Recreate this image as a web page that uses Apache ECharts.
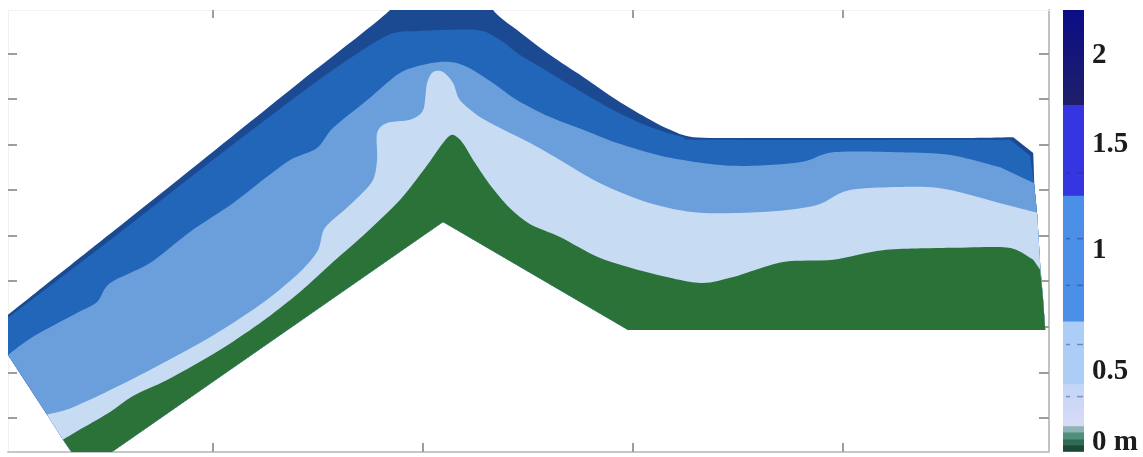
<!DOCTYPE html>
<html>
<head>
<meta charset="utf-8">
<script src="https://cdn.jsdelivr.net/npm/echarts@6/dist/echarts.min.js"></script>
<style>
html, body { margin: 0; padding: 0; background: #fff; }
#chart { width: 1143px; height: 457px; }
</style>
</head>
<body>
<div id="chart"></div>
<script>
// Cross-section of the embankment: [distance, elevation] pairs.
// Outer top surface (continues above the frame at the crest).
const surfaceLine = [[0.24,3.26],[5.10,5.04],[9.38,6.61],[14.14,8.37],[18.43,9.95],[19.86,10.82],[22.24,10.82],[23.33,9.95],[24.48,9.51],[26.05,8.96],[27.62,8.48],[29.24,7.97],[30.81,7.54],[31.76,7.32],[32.86,7.16],[35.57,7.14],[40.33,7.14],[45.10,7.14],[48.10,7.16],[49.05,6.81]];
// Lower limit of the darkest band
const navyBase = [[0.24,3.19],[5.10,4.90],[9.38,6.44],[14.14,8.11],[16.52,8.89],[18.43,9.42],[19.86,9.49],[22.57,9.51],[23.67,9.29],[24.62,8.96],[26.05,8.57],[27.62,8.13],[29.24,7.71],[30.81,7.38],[32.38,7.16],[33.67,7.10],[47.95,7.10],[48.90,6.75]];
// Lower limit of the medium blue band
const mediumBase = [[0.24,2.38],[1.43,2.78],[3.52,3.30],[4.48,3.54],[5.10,3.96],[7.00,4.40],[8.90,5.08],[10.95,5.71],[12.57,6.29],[13.67,6.66],[14.95,6.92],[15.71,7.36],[17.33,7.97],[18.90,8.57],[20.33,8.78],[21.29,8.81],[22.10,8.70],[23.33,8.35],[24.48,7.97],[26.05,7.60],[27.62,7.32],[29.24,7.03],[31.62,6.72],[34.76,6.53],[37.95,6.61],[39.52,6.83],[42.71,6.83],[45.10,6.77],[47.48,6.50],[49.10,6.15]];
// Lower limit of the light blue band
const lightBase = [[2.10,1.07],[3.05,1.18],[4.62,1.50],[7.00,2.05],[9.38,2.64],[10.95,3.08],[12.57,3.59],[14.14,4.20],[15.00,4.68],[15.33,5.17],[16.52,5.67],[17.57,6.18],[17.81,6.66],[17.81,7.25],[18.29,7.47],[19.38,7.54],[20.00,7.75],[20.19,8.35],[20.48,8.59],[20.95,8.59],[21.43,8.35],[21.76,7.97],[22.71,7.60],[23.67,7.36],[25.10,7.03],[26.52,6.66],[28.43,6.15],[30.81,5.71],[33.19,5.50],[36.38,5.52],[38.76,5.67],[40.33,6.00],[43.52,6.07],[45.10,6.00],[47.48,5.71],[49.24,5.50]];
// Top of the dry (green) zone
const greenTop = [[2.86,0.52],[3.81,0.78],[5.10,1.13],[6.19,1.48],[7.81,1.83],[9.71,2.32],[10.95,2.67],[12.57,3.19],[14.14,3.76],[15.71,4.42],[17.33,5.08],[18.90,5.78],[20.10,6.48],[20.95,7.03],[21.38,7.21],[21.86,7.05],[22.48,6.59],[23.19,6.11],[24.14,5.60],[25.10,5.25],[26.52,4.97],[28.43,4.51],[30.81,4.18],[33.19,3.96],[34.76,4.09],[37.14,4.42],[39.52,4.47],[41.90,4.68],[45.10,4.73],[47.48,4.75],[48.29,4.68],[49.05,4.47],[49.38,4.25]];
// Outline: right side (top to bottom), base (right to left), left side (bottom to top)
const rightEdge = [[49.10,6.11],[49.24,5.45],[49.38,4.36],[49.52,3.59],[49.62,2.93]];
const bottomEdge = [[29.76,2.93],[20.95,5.30],[5.19,0.25],[3.86,-0.16]];
const leftEdge = [[2.86,0.52],[2.10,1.07],[0.24,2.38]];

const layerTops = [surfaceLine, navyBase, mediumBase, lightBase, greenTop];
const layerColors = ['#1b4a93', '#2266b9', '#6b9fdc', '#c7dcf3', '#2b7239'];

const xTicks = [10, 20, 30, 40];
const yTicks = [1, 2, 3, 4, 5, 6, 7, 8, 9];

// Colour bar: segment edges along the bar (0 = bottom, 1 = top), colours, level marks, labels
const cbEdges = [1, 0.785, 0.579, 0.294, 0.152, 0.057, 0.043, 0.027, 0.014, 0];
const cbColors = [['#0b0d86', '#1f1f6a'], '#3535e2', '#4c8fe9', '#abcdf6', ['#c2d5f6', '#d9dbf6'], '#8db3b6', '#4f907c', '#2e6c55', '#1c4b35'];
const cbMarks = [0.631, 0.482, 0.376, 0.242, 0.124];
const cbLabelPos = [0.896, 0.695, 0.455, 0.181, 0.020];
const cbLabels = ['2', '1.5', '1', '0.5', '0 m'];

// Outline points that close a band below its upper limit.
function closingPoints(top) {
  const first = top[0][1];
  const last = top[top.length - 1][1];
  return rightEdge.filter(p => p[1] < last)
    .concat(bottomEdge)
    .concat(leftEdge.filter(p => p[1] < first));
}

// Path: smooth curve through the band's upper limit (its last point kept as a sharp
// corner at the right edge), then straight lines along the outline.
function bandPath(topPx, closePx) {
  const f = v => v.toFixed(2);
  const t = 0.85;
  const n = topPx.length;
  let d = 'M' + f(topPx[0][0]) + ' ' + f(topPx[0][1]);
  for (let i = 0; i < n - 2; i++) {
    const p0 = topPx[i - 1] || topPx[i];
    const p1 = topPx[i];
    const p2 = topPx[i + 1];
    const p3 = (i + 2 < n - 1) ? topPx[i + 2] : p2;
    const c1x = p1[0] + (p2[0] - p0[0]) * t / 6, c1y = p1[1] + (p2[1] - p0[1]) * t / 6;
    const c2x = p2[0] - (p3[0] - p1[0]) * t / 6, c2y = p2[1] - (p3[1] - p1[1]) * t / 6;
    d += 'C' + f(c1x) + ' ' + f(c1y) + ' ' + f(c2x) + ' ' + f(c2y) + ' ' + f(p2[0]) + ' ' + f(p2[1]);
  }
  d += 'L' + f(topPx[n - 1][0]) + ' ' + f(topPx[n - 1][1]);
  closePx.forEach(p => { d += 'L' + f(p[0]) + ' ' + f(p[1]); });
  return d + 'Z';
}

function toFill(c) {
  if (Array.isArray(c)) {
    return new echarts.graphic.LinearGradient(0, 0, 0, 1, [
      { offset: 0, color: c[0] }, { offset: 1, color: c[1] }
    ]);
  }
  return c;
}

const tickStyle = { color: '#9d9d9d', width: 2 };

const chart = echarts.init(document.getElementById('chart'), null, { renderer: 'canvas' });

chart.setOption({
  animation: false,
  backgroundColor: '#ffffff',
  grid: [
    { left: 8, top: 10, width: 1041, height: 442 },
    { left: 1063, top: 10, width: 21, height: 442 }
  ],
  xAxis: [
    {
      gridIndex: 0, type: 'value', position: 'bottom', min: 0.24, max: 49.8,
      axisLine: { show: true, lineStyle: { color: '#c6c6c6', width: 2 } },
      axisTick: { show: true, inside: true, length: 9, customValues: xTicks, lineStyle: tickStyle },
      axisLabel: { show: false }, splitLine: { show: false }
    },
    {
      gridIndex: 0, type: 'value', position: 'top', min: 0.24, max: 49.8,
      axisLine: { show: true, lineStyle: { color: '#f3f3f3', width: 1 } },
      axisTick: { show: true, inside: true, length: 8, customValues: xTicks, lineStyle: tickStyle },
      axisLabel: { show: false }, splitLine: { show: false }
    },
    { gridIndex: 1, type: 'value', min: 0, max: 1, show: false }
  ],
  yAxis: [
    {
      gridIndex: 0, type: 'value', position: 'left', min: 0.25, max: 9.95,
      axisLine: { show: true, lineStyle: { color: '#f0f0f0', width: 1 } },
      axisTick: { show: true, inside: true, length: 9, customValues: yTicks, lineStyle: tickStyle },
      axisLabel: { show: false }, splitLine: { show: false }
    },
    {
      gridIndex: 0, type: 'value', position: 'right', min: 0.25, max: 9.95,
      axisLine: { show: true, lineStyle: { color: '#c2c2c2', width: 2 } },
      axisTick: { show: true, inside: true, length: 10, customValues: yTicks, lineStyle: tickStyle },
      axisLabel: { show: false }, splitLine: { show: false }
    },
    {
      gridIndex: 1, type: 'value', position: 'right', min: 0, max: 1,
      axisLine: { show: false }, axisTick: { show: false }, splitLine: { show: false },
      axisLabel: {
        show: true, customValues: cbLabelPos, margin: 8,
        color: '#1c1c1c', fontFamily: 'Liberation Serif', fontWeight: 'bold', fontSize: 29,
        formatter: function (v) {
          let best = 0;
          cbLabelPos.forEach((p, i) => { if (Math.abs(p - v) < Math.abs(cbLabelPos[best] - v)) best = i; });
          return cbLabels[best];
        }
      }
    }
  ],
  series: [
    {
      type: 'custom', xAxisIndex: 0, yAxisIndex: 0, clip: true, silent: true,
      data: layerTops.map((t, i) => [i]),
      renderItem: function (params, api) {
        const i = api.value(0);
        const top = layerTops[i];
        const topPx = top.map(p => api.coord(p));
        const closePx = closingPoints(top).map(p => api.coord(p));
        return { type: 'path', shape: { pathData: bandPath(topPx, closePx) }, style: { fill: layerColors[i] } };
      }
    },
    {
      type: 'custom', xAxisIndex: 2, yAxisIndex: 2, silent: true,
      data: cbColors.map((c, i) => [i]),
      renderItem: function (params, api) {
        const i = api.value(0);
        const p0 = api.coord([0, cbEdges[i]]);
        const p1 = api.coord([1, cbEdges[i + 1]]);
        return {
          type: 'rect',
          shape: { x: p0[0], y: p0[1], width: p1[0] - p0[0], height: p1[1] - p0[1] + 0.5 },
          style: { fill: toFill(cbColors[i]) }
        };
      }
    },
    {
      type: 'custom', xAxisIndex: 2, yAxisIndex: 2, silent: true,
      data: cbMarks.map(v => [0, v]),
      renderItem: function (params, api) {
        const v = api.value(1);
        const a0 = api.coord([0.14, v]), a1 = api.coord([0.33, v]);
        const b0 = api.coord([0.67, v]), b1 = api.coord([0.95, v]);
        const st = { stroke: 'rgba(40,50,120,0.45)', lineWidth: 1.5 };
        return {
          type: 'group',
          children: [
            { type: 'line', shape: { x1: a0[0], y1: a0[1], x2: a1[0], y2: a1[1] }, style: st },
            { type: 'line', shape: { x1: b0[0], y1: b0[1], x2: b1[0], y2: b1[1] }, style: st }
          ]
        };
      }
    }
  ]
});
</script>
</body>
</html>
